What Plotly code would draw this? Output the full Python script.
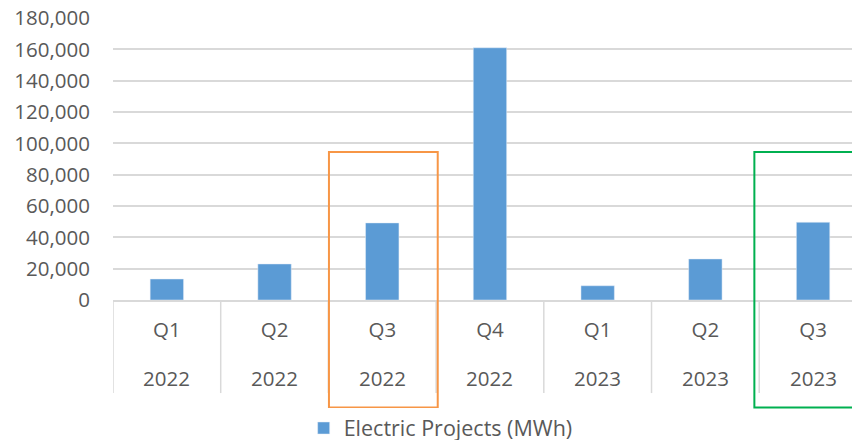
import plotly.graph_objects as go

quarters = ["Q1", "Q2", "Q3", "Q4", "Q1", "Q2", "Q3"]
years = ["2022", "2022", "2022", "2022", "2023", "2023", "2023"]
electric_mwh = [13400, 23000, 49200, 161000, 9100, 26200, 49600]
y_ticks = [0, 20000, 40000, 60000, 80000, 100000, 120000, 140000, 160000, 180000]

FONT = "Open Sans"
GREY_TXT = "#595959"
GRID = "#D9D9D9"
positions = list(range(len(quarters)))

fig = go.Figure()
fig.add_trace(go.Bar(
    x=positions, y=electric_mwh, name="Electric Projects (MWh)",
    marker_color="#5B9BD5", width=0.31,
))

# category dividers running down through the label rows
shapes = []
for i in range(len(quarters) + 1):
    shapes.append(dict(type="line", xref="x", yref="paper",
                       x0=i - 0.5, x1=i - 0.5, y0=-0.33, y1=0,
                       line=dict(color=GRID, width=1.5), layer="below"))

# highlight boxes (the second one runs off the right edge)
shapes.append(dict(type="rect", xref="x", yref="paper", x0=1.505, x1=2.515,
                   y0=-0.381, y1=0.525, line=dict(color="#F79646", width=2)))
shapes.append(dict(type="rect", xref="x", yref="paper", x0=5.455, x1=20,
                   y0=-0.381, y1=0.525, line=dict(color="#00B050", width=2)))

# second label row (year under each quarter)
annotations = [dict(x=p, y=-0.2766, xref="x", yref="paper", text=yr,
                    showarrow=False, yanchor="middle",
                    font=dict(size=20.5, color=GREY_TXT))
               for p, yr in zip(positions, years)]

# page body adds an 8px offset; plot runs past the right window edge like the original
fig.update_layout(
    width=860, height=432,
    margin=dict(l=105, r=0, t=10, b=140, autoexpand=False),
    plot_bgcolor="white", paper_bgcolor="white",
    font=dict(family=FONT, size=20.5, color=GREY_TXT),
    shapes=shapes,
    annotations=annotations,
    showlegend=True,
    legend=dict(orientation="h", x=0.434, xanchor="center", y=-0.454, yanchor="middle",
                font=dict(size=21.5, color=GREY_TXT), itemwidth=30),
    xaxis=dict(range=[-0.5, 6.51], tickmode="array", tickvals=positions,
               ticktext=quarters, automargin=False,
               showgrid=False, zeroline=False, showline=True, linecolor=GRID,
               linewidth=1.5, ticks="", ticklabelstandoff=11),
    yaxis=dict(range=[0, 180000], tickvals=y_ticks, tickformat=",d", automargin=False,
               ticklabeloverflow="allow",
               showgrid=True, gridcolor=GRID, gridwidth=1.5, zeroline=False,
               showline=False, ticks="", ticklabelstandoff=22),
)

fig.write_html("out.html")
